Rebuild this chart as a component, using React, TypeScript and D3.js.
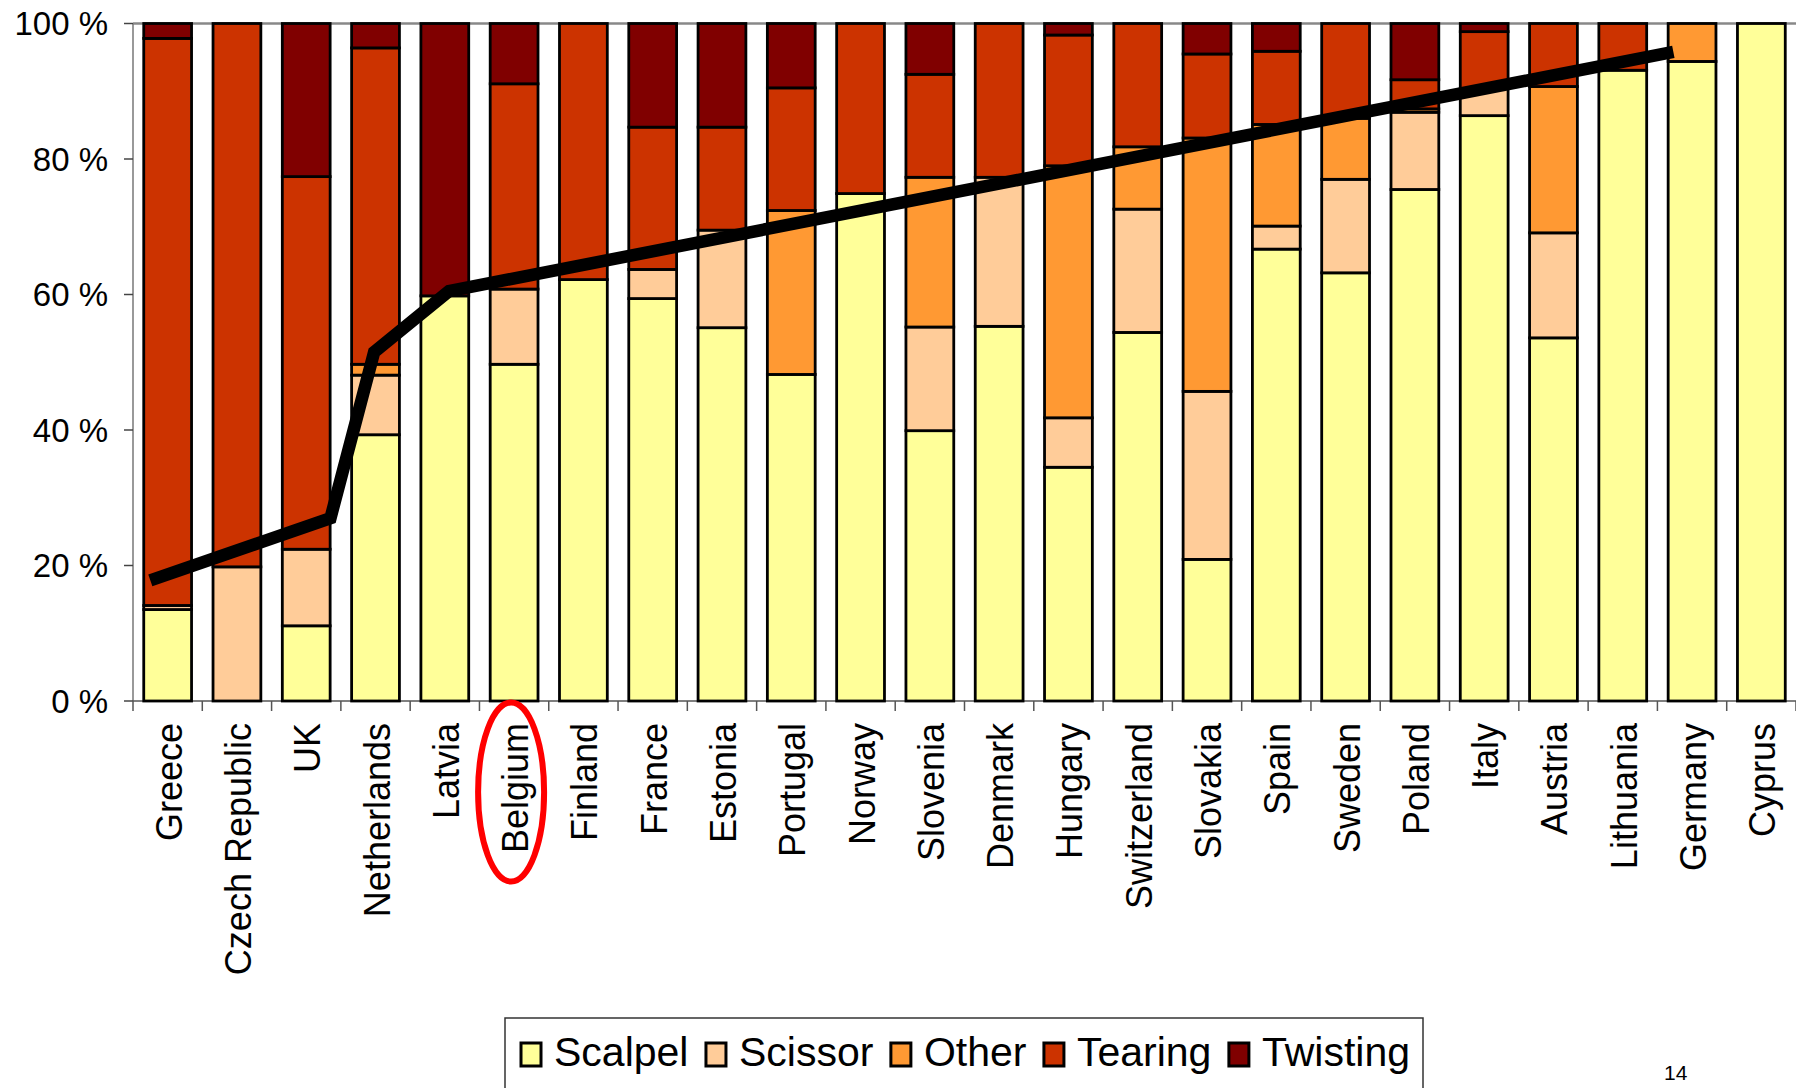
import React from "react";
import * as d3 from "d3";

const categories = ["Greece","Czech Republic","UK","Netherlands","Latvia","Belgium","Finland","France","Estonia","Portugal","Norway","Slovenia","Denmark","Hungary","Switzerland","Slovakia","Spain","Sweden","Poland","Italy","Austria","Lithuania","Germany","Cyprus"];
const scalpel =  [13.5, 0, 11.1, 39.3, 59.8, 49.7, 62.2, 59.4, 55.1, 48.2, 74.9, 39.9, 55.3, 34.5, 54.4, 20.9, 66.7, 63.2, 75.5, 86.4, 53.6, 93.1, 94.4, 100];
const scissor =  [0.6, 19.8, 11.3, 8.8, 0, 11.1, 0, 4.3, 14.4, 0, 0, 15.3, 22.0, 7.3, 18.2, 24.8, 3.4, 13.8, 11.4, 4.0, 15.5, 0, 0, 0];
const other =    [0, 0, 0, 1.6, 0, 0, 0, 0, 0, 24.2, 0, 22.1, 0, 37.2, 9.2, 37.4, 15.0, 9.0, 0.5, 0, 21.6, 0, 5.6, 0];
const tearing =  [83.7, 80.2, 55.0, 46.7, 0, 30.3, 37.8, 21.0, 15.2, 18.1, 25.1, 15.2, 22.7, 19.3, 18.2, 12.4, 10.8, 14.0, 4.3, 8.4, 9.3, 6.9, 0, 0];
const twisting = [2.2, 0, 22.6, 3.6, 40.2, 8.9, 0, 15.3, 15.3, 9.5, 0, 7.5, 0, 1.7, 0, 4.5, 4.1, 0, 8.3, 1.2, 0, 0, 0, 0];

const seriesNames = ["Scalpel","Scissor","Other","Tearing","Twisting"];
const seriesColors = ["#FFFF99","#FFCC99","#FF9933","#CC3300","#800000"];
const seriesValues = [scalpel, scissor, other, tearing, twisting];

// hand-drawn trend line: position in category index units, value in %
const trendPos = [-0.25, 2.35, 2.98, 4.06, 21.73];
const trendValue = [17.8, 27.0, 51.5, 60.5, 95.8];

const yTicks = [0, 20, 40, 60, 80, 100];
const highlighted = "Belgium";
const pageNumber = "14";

const W = 1796, H = 1088;
const FONT = "'Liberation Sans', Arial, Helvetica, sans-serif";

function measure(text: string, size: number) {
  const c = document.createElement("canvas").getContext("2d");
  if (!c) return text.length * size * 0.55;
  c.font = `${size}px 'Liberation Sans'`;
  return c.measureText(text).width;
}

export default function App() {
  const x = d3.scaleBand<string>().domain(categories).range([133, 1796]).paddingInner(0.31).paddingOuter(0.155);
  const y = d3.scaleLinear().domain([0, 100]).range([701, 23.5]);
  const bw = x.bandwidth();
  const step = x.step();
  const idx = d3.scaleLinear().domain([0, categories.length - 1])
    .range([(x(categories[0]) as number) + bw / 2, (x(categories[categories.length - 1]) as number) + bw / 2]);

  const rows = categories.map((c, i) => {
    const r: any = { cat: c };
    seriesNames.forEach((s, k) => (r[s] = seriesValues[k][i]));
    return r;
  });
  const stacked = d3.stack().keys(seriesNames)(rows);

  const line = d3.line<number>().x((p) => idx(p)).y((p, i) => y(trendValue[i]));
  const bx0 = x.range()[0];

  // legend layout
  const legFont = 41;
  let lx = 521;
  const legendItems = seriesNames.map((s, i) => {
    const item = { name: s, color: seriesColors[i], sx: lx, tx: lx + 33 };
    lx = lx + 33 + measure(s, legFont) + 17.5;
    return item;
  });

  const bel = (x(highlighted) as number) + bw / 2;

  return (
    <div style={{ position: "absolute", left: 0, top: 0 }}>
      <svg width={W} height={H} style={{ display: "block", background: "#fff" }} fontFamily={FONT}>
        <line x1={133} x2={W} y1={y(100)} y2={y(100)} stroke="#888" strokeWidth={2.5} />
        <line x1={133} x2={133} y1={y(0)} y2={y(100)} stroke="#777" strokeWidth={1.5} />
        {yTicks.map((t) => (
          <g key={t}>
            <line x1={124} x2={133} y1={y(t)} y2={y(t)} stroke="#444" strokeWidth={1.5} />
            <text x={108} y={y(t)} dy="0.36em" textAnchor="end" fontSize={33} fill="#000">{`${t} %`}</text>
          </g>
        ))}
        <line x1={133} x2={W} y1={y(0)} y2={y(0)} stroke="#555" strokeWidth={1.5} />
        {d3.range(categories.length + 1).map((i) => (
          <line key={i} x1={bx0 + i * step} x2={bx0 + i * step} y1={y(0)} y2={y(0) + 10} stroke="#555" strokeWidth={1.5} />
        ))}
        {stacked.map((s, k) => (
          <g key={s.key} fill={seriesColors[k]}>
            {s.map((d, i) => (d[1] - d[0] > 0 ? (
              <rect key={i} x={x(categories[i])} width={bw} y={y(d[1])} height={y(d[0]) - y(d[1])} stroke="#000" strokeWidth={2.8} />
            ) : null))}
          </g>
        ))}
        <path d={line(trendPos) || ""} fill="none" stroke="#000" strokeWidth={12.5} strokeLinejoin="miter" strokeLinecap="butt" />
        {categories.map((c) => (
          <text key={c} transform={`translate(${(x(c) as number) + bw / 2 + 14},${723}) rotate(-90)`} textAnchor="end" fontSize={36} fill="#000">{c}</text>
        ))}
        <ellipse cx={bel - 3} cy={792} rx={33} ry={89.5} fill="none" stroke="#FF0000" strokeWidth={6} />
        <rect x={505} y={1018} width={918} height={100} fill="#fff" stroke="#333" strokeWidth={1.5} />
        {legendItems.map((it) => (
          <g key={it.name}>
            <rect x={it.sx} y={1043} width={20} height={23} fill={it.color} stroke="#000" strokeWidth={3} />
            <text x={it.tx} y={1066} fontSize={legFont} fill="#000">{it.name}</text>
          </g>
        ))}
        <text x={1664} y={1080} fontSize={21} fill="#000">{pageNumber}</text>
      </svg>
    </div>
  );
}
